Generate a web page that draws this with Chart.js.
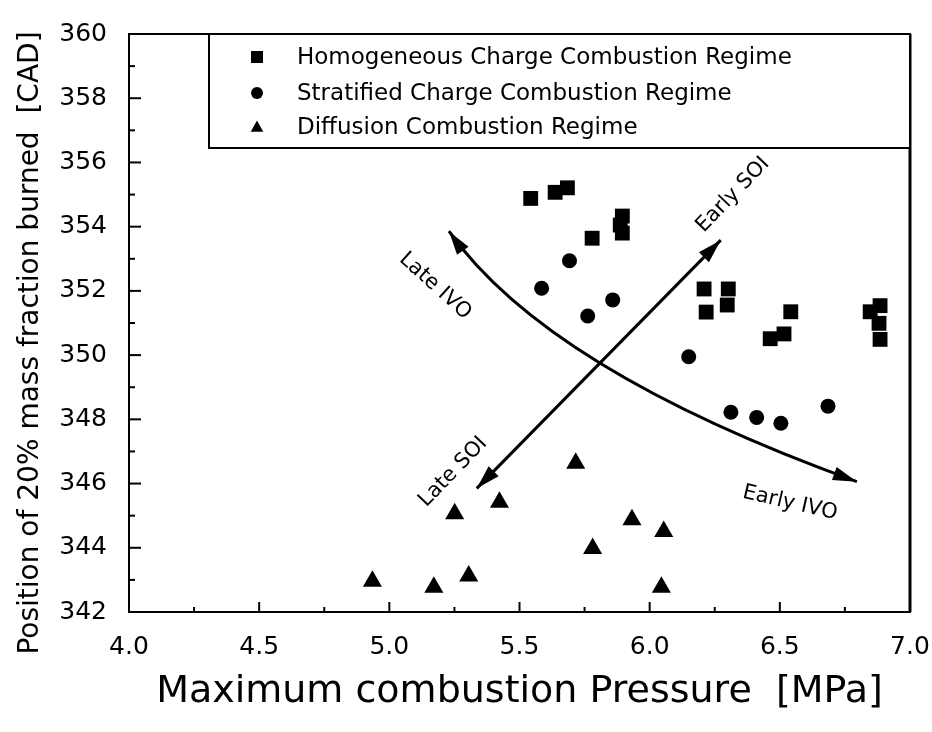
<!DOCTYPE html>
<html>
<head>
<meta charset="utf-8">
<script src="https://cdn.jsdelivr.net/npm/chart.js@4"></script>
<style>
  body { margin: 0; background: #fff; }
  #wrap { width: 932px; height: 732px; }
</style>
</head>
<body>
<div id="wrap"><canvas id="chart" width="932" height="732"></canvas></div>
<script>
// values
const hccX = [5.543, 5.637, 5.684, 5.895, 5.887, 5.895, 5.779, 6.209, 6.302, 6.217, 6.298, 6.542, 6.463, 6.516, 6.847, 6.885, 6.881, 6.885];
const hccY = [354.88, 355.07, 355.21, 354.33, 354.05, 353.80, 353.64, 352.06, 352.06, 351.34, 351.56, 351.35, 350.51, 350.66, 351.35, 351.54, 350.99, 350.49];

const sccX = [5.692, 5.585, 5.858, 5.762, 6.150, 6.312, 6.411, 6.504, 6.685];
const sccY = [352.94, 352.08, 351.72, 351.22, 349.95, 348.22, 348.06, 347.88, 348.41];

const dcrX = [5.716, 5.423, 5.251, 5.932, 6.054, 5.781, 5.305, 5.171, 6.045, 4.935];
const dcrY = [346.63, 345.42, 345.06, 344.87, 344.51, 343.98, 343.12, 342.77, 342.77, 342.96];

const seriesNames = ['Homogeneous Charge Combustion Regime', 'Stratified Charge Combustion Regime', 'Diffusion Combustion Regime'];

const xTicks = [4.0, 4.5, 5.0, 5.5, 6.0, 6.5, 7.0];
const yTicks = [342, 344, 346, 348, 350, 352, 354, 356, 358, 360];

// arrow ends and label anchors, in data units
const soiArrow = [[5.336, 345.85], [6.273, 353.58]];
const ivoArrow = [[5.229, 353.86], [5.809, 349.75], [6.796, 346.06]]; // start, through, end
const notes = [
  { text: 'Late IVO', x: 5.176, y: 352.15, angle: 42 },
  { text: 'Early SOI', x: 6.320, y: 354.99, angle: -46 },
  { text: 'Late SOI', x: 5.245, y: 346.36, angle: -46 },
  { text: 'Early IVO', x: 6.539, y: 345.39, angle: 13 }
];

const toPoints = (xs, ys) => xs.map((x, i) => ({ x: x, y: ys[i] }));

function arrowHead(ctx, tx, ty, fx, fy) {
  const a = Math.atan2(ty - fy, tx - fx);
  const len = 24, hw = 7;
  ctx.beginPath();
  ctx.moveTo(tx, ty);
  ctx.lineTo(tx - len * Math.cos(a) + hw * Math.sin(a), ty - len * Math.sin(a) - hw * Math.cos(a));
  ctx.lineTo(tx - len * Math.cos(a) - hw * Math.sin(a), ty - len * Math.sin(a) + hw * Math.cos(a));
  ctx.closePath();
  ctx.fill();
}

function marker(ctx, style, x, y, s) {
  ctx.beginPath();
  if (style === 'rect') {
    ctx.rect(x - s, y - s, 2 * s, 2 * s);
  } else if (style === 'circle') {
    ctx.arc(x, y, s, 0, Math.PI * 2);
  } else {
    ctx.moveTo(x, y - s * 1.1);
    ctx.lineTo(x + s * 1.05, y + s * 0.8);
    ctx.lineTo(x - s * 1.05, y + s * 0.8);
    ctx.closePath();
  }
  ctx.fill();
}

const extras = {
  id: 'extras',
  afterDraw(chart) {
    const ctx = chart.ctx;
    const xs = chart.scales.x, ys = chart.scales.y;
    const a = chart.chartArea;
    const px = p => [xs.getPixelForValue(p[0]), ys.getPixelForValue(p[1])];
    ctx.save();
    ctx.fillStyle = '#000';
    ctx.strokeStyle = '#000';

    // frame top / right
    ctx.lineWidth = 2;
    ctx.beginPath();
    ctx.moveTo(a.left, a.top);
    ctx.lineTo(a.right, a.top);
    ctx.stroke();
    ctx.lineWidth = 3;
    ctx.beginPath();
    ctx.moveTo(a.right, a.top);
    ctx.lineTo(a.right, a.bottom);
    ctx.stroke();

    // inward ticks, major and minor
    ctx.lineWidth = 2;
    const xt = xs.ticks.map(t => t.value);
    xt.forEach((v, i) => {
      const x = xs.getPixelForValue(v);
      ctx.beginPath(); ctx.moveTo(x, a.bottom); ctx.lineTo(x, a.bottom - 10); ctx.stroke();
      if (i < xt.length - 1) {
        const m = xs.getPixelForValue((v + xt[i + 1]) / 2);
        ctx.beginPath(); ctx.moveTo(m, a.bottom); ctx.lineTo(m, a.bottom - 5); ctx.stroke();
      }
    });
    const yt = ys.ticks.map(t => t.value);
    yt.forEach((v, i) => {
      const y = ys.getPixelForValue(v);
      ctx.beginPath(); ctx.moveTo(a.left, y); ctx.lineTo(a.left + 12, y); ctx.stroke();
      if (i < yt.length - 1) {
        const m = ys.getPixelForValue((v + yt[i + 1]) / 2);
        ctx.beginPath(); ctx.moveTo(a.left, m); ctx.lineTo(a.left + 6, m); ctx.stroke();
      }
    });

    // legend box
    const lx = 209, lb = 148;
    ctx.fillStyle = '#fff';
    ctx.fillRect(lx, a.top, a.right - lx, lb - a.top);
    ctx.fillStyle = '#000';
    ctx.lineWidth = 2;
    ctx.strokeRect(lx, a.top, a.right - lx, lb - a.top);
    const rows = [57, 93, 127];
    const styles = ['rect', 'circle', 'triangle'];
    ctx.font = '23px "DejaVu Sans"';
    ctx.textBaseline = 'middle';
    ctx.textAlign = 'left';
    seriesNames.forEach((name, i) => {
      marker(ctx, styles[i], 257, rows[i], 6);
      ctx.fillText(name, 297, rows[i] + 1);
    });

    // SOI arrow
    const s0 = px(soiArrow[0]), s1 = px(soiArrow[1]);
    ctx.lineWidth = 3;
    ctx.beginPath(); ctx.moveTo(s0[0], s0[1]); ctx.lineTo(s1[0], s1[1]); ctx.stroke();
    arrowHead(ctx, s1[0], s1[1], s0[0], s0[1]);
    arrowHead(ctx, s0[0], s0[1], s1[0], s1[1]);

    // IVO curved arrow
    const c0 = px(ivoArrow[0]), cm = px(ivoArrow[1]), c2 = px(ivoArrow[2]);
    const cx = 2 * cm[0] - (c0[0] + c2[0]) / 2, cy = 2 * cm[1] - (c0[1] + c2[1]) / 2;
    ctx.beginPath(); ctx.moveTo(c0[0], c0[1]); ctx.quadraticCurveTo(cx, cy, c2[0], c2[1]); ctx.stroke();
    arrowHead(ctx, c0[0], c0[1], cx, cy);
    arrowHead(ctx, c2[0], c2[1], cx, cy);

    // arrow labels
    ctx.font = '21px "DejaVu Sans"';
    ctx.textAlign = 'center';
    notes.forEach(n => {
      const p = px([n.x, n.y]);
      ctx.save();
      ctx.translate(p[0], p[1]);
      ctx.rotate(n.angle * Math.PI / 180);
      ctx.fillText(n.text, 0, 0);
      ctx.restore();
    });

    // axis titles
    ctx.font = '38px "DejaVu Sans"';
    ctx.textBaseline = 'alphabetic';
    ctx.fillText('Maximum combustion Pressure  [MPa]', (a.left + a.right) / 2, 702);
    ctx.save();
    ctx.translate(31, 343);
    ctx.rotate(-Math.PI / 2);
    ctx.font = '28px "DejaVu Sans"';
    ctx.textBaseline = 'middle';
    ctx.fillText('Position of 20% mass fraction burned  [CAD]', 0, 0);
    ctx.restore();

    ctx.restore();
  }
};

new Chart(document.getElementById('chart'), {
  type: 'scatter',
  data: {
    datasets: [
      { label: seriesNames[0], data: toPoints(hccX, hccY), pointStyle: 'rect', pointRadius: 10.5, backgroundColor: '#000', borderColor: '#000', borderWidth: 0 },
      { label: seriesNames[1], data: toPoints(sccX, sccY), pointStyle: 'circle', pointRadius: 7.5, backgroundColor: '#000', borderColor: '#000', borderWidth: 0 },
      { label: seriesNames[2], data: toPoints(dcrX, dcrY), pointStyle: 'triangle', pointRadius: 11, backgroundColor: '#000', borderColor: '#000', borderWidth: 0 }
    ]
  },
  options: {
    responsive: false,
    animation: false,
    devicePixelRatio: 1,
    layout: { padding: { top: 34, right: 22, left: 0, bottom: 0 } },
    plugins: { legend: { display: false }, tooltip: { enabled: false } },
    scales: {
      x: {
        type: 'linear', min: 4, max: 7,
        afterBuildTicks: s => { s.ticks = xTicks.map(v => ({ value: v })); },
        afterFit: s => { s.height = 120; s.paddingLeft = 0; s.paddingRight = 0; },
        ticks: { color: '#000', padding: 12, font: { family: 'DejaVu Sans', size: 25 }, callback: v => v.toFixed(1), maxRotation: 0 },
        grid: { display: false },
        border: { display: true, color: '#000', width: 2 }
      },
      y: {
        type: 'linear', min: 342, max: 360,
        afterBuildTicks: s => { s.ticks = yTicks.map(v => ({ value: v })); },
        afterFit: s => { s.width = 129; s.paddingTop = 0; s.paddingBottom = 0; },
        ticks: { color: '#000', padding: 14, font: { family: 'DejaVu Sans', size: 25 } },
        grid: { display: false },
        border: { display: true, color: '#000', width: 2 }
      }
    }
  },
  plugins: [extras]
});
</script>
</body>
</html>
